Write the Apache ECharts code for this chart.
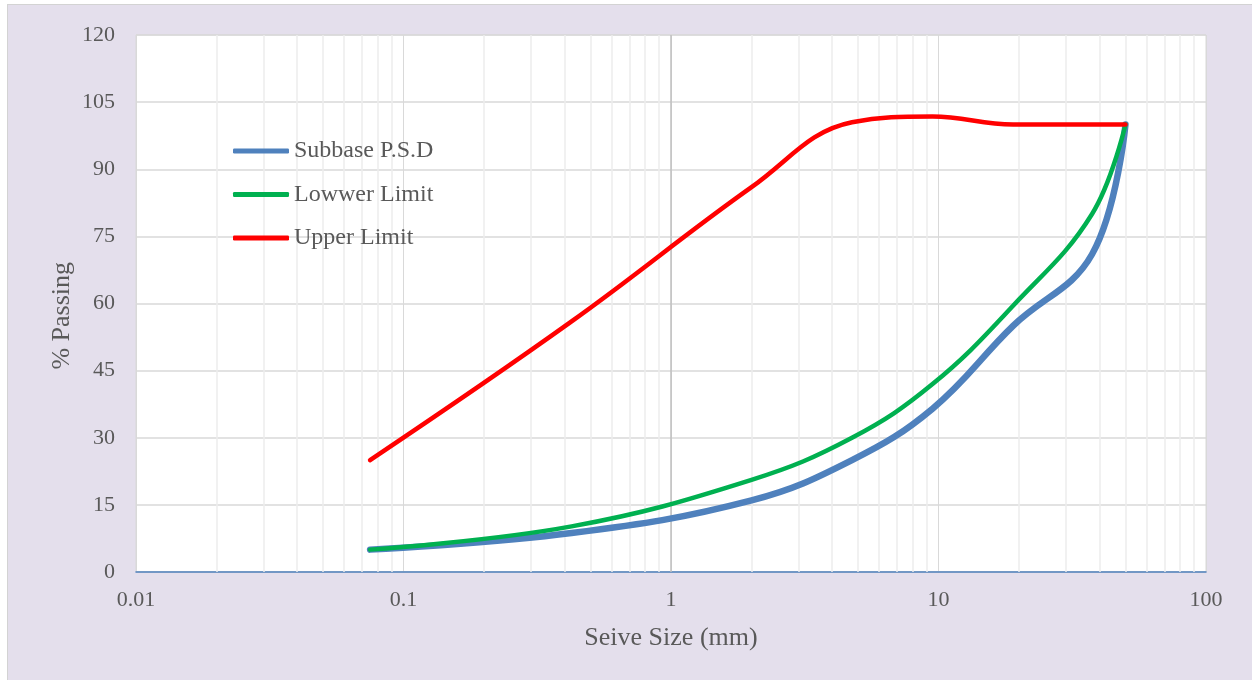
<!DOCTYPE html>
<html>
<head>
<meta charset="utf-8">
<title>Subbase Particle Size Distribution</title>
<script src="https://cdn.jsdelivr.net/npm/echarts@6/dist/echarts.min.js"></script>
<style>
  html, body { margin: 0; padding: 0; background: #ffffff; overflow: hidden; }
  #frame {
    position: absolute; left: 7px; top: 4px; width: 1260px; height: 690px;
    background: #e4dfec; border: 1px solid #d3d3d3;
  }
  #chart { position: absolute; left: 0; top: 0; width: 1252px; height: 680px; }
</style>
</head>
<body>
<div id="frame"></div>
<div id="chart"></div>
<script>
// Sieve sizes (mm) and percent passing for each curve
const sieveSizes   = [0.075, 0.425, 2, 4.75, 9.5, 19, 37.5, 50];
const subbasePSD   = [5, 8.7, 16, 25, 36.5, 55, 71, 100];
const lowerLimit   = [5, 10.2, 20.6, 30, 42, 59.5, 80, 100];
const upperSizes   = [0.075, 0.425, 2, 4.75, 9.5, 19, 50];
const upperLimit   = [25, 56, 86, 100.5, 101.8, 100, 100];

// Axis ticks
const xTickValues = [0.01, 0.1, 1, 10, 100];
const xTickLabels = ['0.01', '0.1', '1', '10', '100'];
const yTickLabels = ['0', '15', '30', '45', '60', '75', '90', '105', '120'];

const seriesNames = ['Subbase P.S.D', 'Lowwer Limit', 'Upper Limit'];
const seriesColors = ['#4f81bd', '#00b050', '#ff0000'];

// Minor log gridlines: 2..9 within each decade
const minorGrid = [];
for (let d = 0; d < xTickValues.length - 1; d++) {
  for (let k = 2; k <= 9; k++) minorGrid.push(+(k * xTickValues[d]).toPrecision(3));
}

const pairs = (xs, ys) => xs.map((x, i) => [x, ys[i]]);
const FONT = '"Liberation Serif", "Times New Roman", serif';
const TXT = '#595959';
const SMOOTH = 0.4;

const chart = echarts.init(document.getElementById('chart'), null, { renderer: 'canvas' });

chart.setOption({
  backgroundColor: 'transparent',
  animation: false,
  textStyle: { fontFamily: FONT },
  grid: {
    left: 136, right: 46, top: 35, bottom: 108,
    show: true, backgroundColor: '#ffffff', borderColor: '#d9d9d9', borderWidth: 1
  },
  legend: {
    orient: 'vertical', left: 233, top: 139, padding: 0,
    itemWidth: 56, itemHeight: 5, itemGap: 19.5,
    icon: 'roundRect',
    data: seriesNames,
    textStyle: { fontFamily: FONT, fontSize: 24, color: TXT, lineHeight: 24 }
  },
  xAxis: {
    type: 'log', logBase: 10, min: 0.01, max: 100,
    name: 'Seive Size (mm)', nameLocation: 'middle', nameGap: 53,
    nameTextStyle: { fontFamily: FONT, fontSize: 26, color: TXT },
    axisLine: { show: true, lineStyle: { color: '#4f81bd', width: 1.5 } },
    axisTick: { show: false },
    axisLabel: {
      margin: 17, fontFamily: FONT, fontSize: 22, color: TXT,
      formatter: function (v) {
        for (let i = 0; i < xTickValues.length; i++) {
          if (Math.abs(Math.log10(v) - Math.log10(xTickValues[i])) < 1e-6) return xTickLabels[i];
        }
        return '';
      }
    },
    splitLine: { show: true, lineStyle: { color: '#d9d9d9', width: 1 } }
  },
  yAxis: {
    type: 'value', min: 0, max: 120, interval: 15,
    axisLine: { show: false }, axisTick: { show: false },
    axisLabel: {
      margin: 21, fontFamily: FONT, fontSize: 22, color: TXT,
      formatter: function (v) { return yTickLabels[Math.round(v / 15)]; }
    },
    splitLine: { show: true, lineStyle: { color: '#d9d9d9', width: 1.5 } }
  },
  graphic: [{
    type: 'text', left: 49, top: 262, rotation: Math.PI / 2,
    style: { text: '% Passing', font: '26px ' + FONT, fill: TXT }
  }],
  series: [
    {
      // helper: minor log gridlines and the value axis crossing at 1
      name: 'grid-helper', type: 'line', data: [], z: 1, silent: true,
      markLine: {
        z: 1, silent: true, symbol: 'none', label: { show: false },
        animation: false,
        data: minorGrid.map(v => ({ xAxis: v, lineStyle: { color: '#ededed', width: 1.5, type: 'solid' } }))
          .concat([{ xAxis: 1, lineStyle: { color: '#bfbfbf', width: 1.5, type: 'solid' } }])
      }
    },
    {
      name: seriesNames[0], type: 'line', smooth: SMOOTH, showSymbol: false, z: 3,
      data: pairs(sieveSizes, subbasePSD),
      color: seriesColors[0],
      lineStyle: { width: 6.5, color: seriesColors[0], cap: 'round', join: 'round' }
    },
    {
      name: seriesNames[1], type: 'line', smooth: SMOOTH, showSymbol: false, z: 4,
      data: pairs(sieveSizes, lowerLimit),
      color: seriesColors[1],
      lineStyle: { width: 4.5, color: seriesColors[1], cap: 'round', join: 'round' }
    },
    {
      name: seriesNames[2], type: 'line', smooth: SMOOTH, showSymbol: false, z: 5,
      data: pairs(upperSizes, upperLimit),
      color: seriesColors[2],
      lineStyle: { width: 4.5, color: seriesColors[2], cap: 'round', join: 'round' }
    }
  ]
});
</script>
</body>
</html>
